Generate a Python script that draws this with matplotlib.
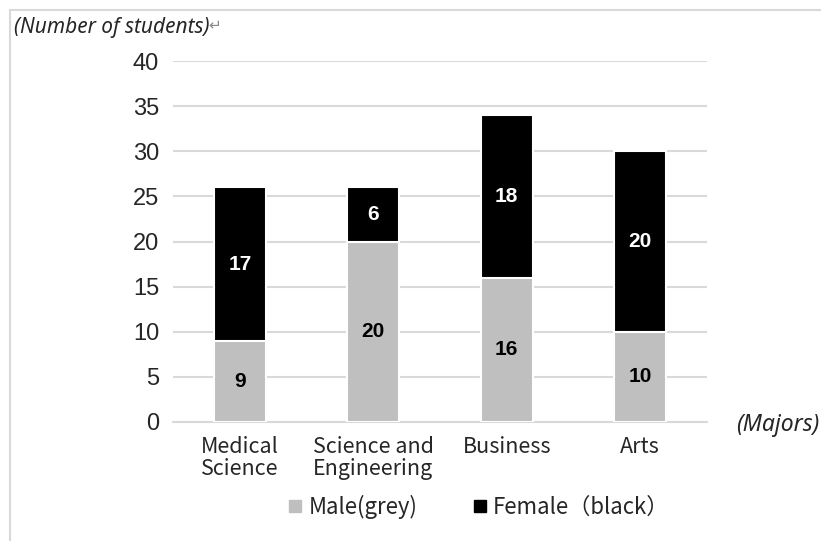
import matplotlib
matplotlib.use("Agg")
import matplotlib.pyplot as plt
from matplotlib.lines import Line2D
import numpy as np

categories = ["Medical\nScience", "Science and\nEngineering", "Business", "Arts"]
male = [9, 20, 16, 10]
female = [17, 6, 18, 20]
yticks = [0, 5, 10, 15, 20, 25, 30, 35, 40]

W, H = 821, 541
fig = plt.figure(figsize=(W / 100, H / 100), dpi=100)
ax = fig.add_axes([173 / W, 1 - 422 / H, 534 / W, 361 / H])

x = np.arange(len(categories))
grey = "#bfbfbf"
ax.bar(x, male, width=0.39, color=grey, edgecolor="white", linewidth=1.5, zorder=3)
ax.bar(x, female, width=0.39, bottom=male, color="black", edgecolor="white", linewidth=1.5, zorder=3)

for xi, m, f in zip(x, male, female):
    ax.text(xi, m / 2, str(m), ha="center", va="center", fontsize=15, fontweight="bold",
            color="black", family="Liberation Sans", zorder=4)
    ax.text(xi, m + f / 2, str(f), ha="center", va="center", fontsize=15, fontweight="bold",
            color="white", family="Liberation Sans", zorder=4)

ax.set_xlim(-0.5, len(categories) - 0.5)
ax.set_ylim(0, 40)
ax.set_yticks(yticks)
ax.set_yticklabels([str(v) for v in yticks], family="Liberation Sans", fontsize=17, color="#262626")
ax.set_xticks(x)
ax.set_xticklabels(categories, family=["Noto Sans CJK SC", "DejaVu Sans"], fontsize=15.5,
                   color="#262626", linespacing=1.0)
ax.tick_params(axis="x", length=0, pad=10)
ax.tick_params(axis="y", length=0, pad=10)
ax.grid(axis="y", color="#d9d9d9", linewidth=1.5, zorder=0)
for s in ["left", "right", "top"]:
    ax.spines[s].set_visible(False)
ax.spines["bottom"].set_color("#d9d9d9")
ax.spines["bottom"].set_linewidth(1.5)

# Labels
fig.text(14 / W, 1 - 27 / H, "(Number of students)", fontsize=15, style="italic",
         family=["Noto Sans", "DejaVu Sans"], color="#262626", va="center", ha="left")
fig.text(208 / W, 1 - 25 / H, "\u21b5", fontsize=11, family="DejaVu Sans", color="#888888",
         va="center", ha="left")
fig.text(736 / W, 1 - 425 / H, "(Majors)", fontsize=16.5, style="italic",
         family=["Noto Sans", "DejaVu Sans"], color="#262626", va="center", ha="left")

# Legend
handles = [Line2D([], [], marker="s", linestyle="none", markersize=8, color=grey),
           Line2D([], [], marker="s", linestyle="none", markersize=8, color="black")]
fig.legend(handles, ["Male(grey)", "Female\uff08black\uff09"], loc="center",
           bbox_to_anchor=(478 / W, 1 - 507 / H), ncol=2, frameon=False,
           prop={"family": ["Noto Sans CJK SC", "DejaVu Sans"], "size": 16},
           handletextpad=0.2, columnspacing=2.4, handlelength=0.8, labelcolor="#262626")

# Page border lines
fig.add_artist(Line2D([10 / W, 1], [1 - 10 / H, 1 - 10 / H], color="#d9d9d9", linewidth=1.5))
fig.add_artist(Line2D([10 / W, 10 / W], [0, 1 - 10 / H], color="#d9d9d9", linewidth=1.5))

fig.savefig("out.png", dpi=100)
